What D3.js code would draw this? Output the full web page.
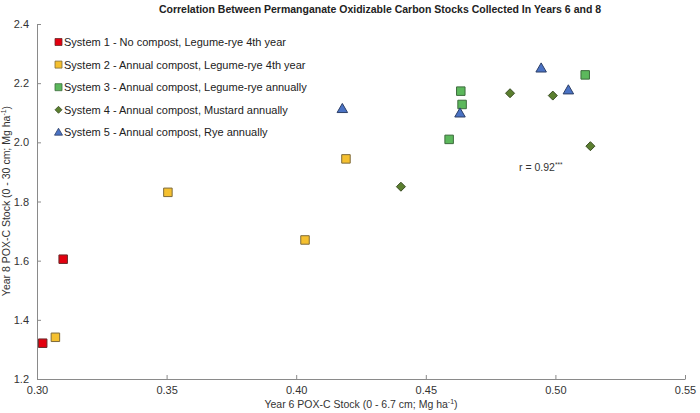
<!DOCTYPE html>
<html><head><meta charset="utf-8">
<script src="https://cdn.jsdelivr.net/npm/d3@7"></script>
<style>body{margin:0;background:#fff}svg{display:block;font-family:"Liberation Sans",Arial,sans-serif}</style>
</head><body><svg id="c" width="700" height="413"></svg>
<script>
const title = "Correlation Between Permanganate Oxidizable Carbon Stocks Collected In Years 6 and 8";
const seriesNames = ["System 1 - No compost, Legume-rye 4th year","System 2 - Annual compost, Legume-rye 4th year","System 3 - Annual compost, Legume-rye annually","System 4 - Annual compost, Mustard annually","System 5 - Annual compost, Rye annually"];
const s1x = [0.3022,0.3101];
const s1y = [1.321,1.605];
const s2x = [0.3071,0.3505,0.4034,0.4192];
const s2y = [1.341,1.831,1.670,1.944];
const s3x = [0.459,0.4635,0.464,0.5115];
const s3y = [2.010,2.173,2.128,2.228];
const s4x = [0.4404,0.4825,0.4990,0.5135];
const s4y = [1.850,2.166,2.158,1.987];
const s5x = [0.4178,0.4632,0.4945,0.5050];
const s5y = [2.113,2.098,2.250,2.176];
const xTicks = [0.30,0.35,0.40,0.45,0.50,0.55];
const yTicks = [1.2,1.4,1.6,1.8,2.0,2.2,2.4];
const fills = ["#e3000f","#f5c02f","#5cb85c","#5b7f2f","#4a72c4"];
const strokes = ["#6a2a2a","#7d6a3a","#3d6b3d","#3a4d24","#2d3f66"];
const shapes = ["square","square","square","diamond","triangle"];

const svg = d3.select("#c");
const x = d3.scaleLinear().domain([0.30,0.55]).range([37,685]);
const y = d3.scaleLinear().domain([1.2,2.4]).range([379,24]);

function sym(shape, s){
  if(shape==="square") return `M${-s/2},${-s/2}h${s}v${s}h${-s}Z`;
  if(shape==="diamond") return `M0,${-s/2}L${s/2},0L0,${s/2}L${-s/2},0Z`;
  const h = s*0.87;
  return `M0,${-h*0.6}L${s/2},${h*0.4}L${-s/2},${h*0.4}Z`;
}
const markSize = {square:8.5, diamond:9, triangle:10.5};
const legSize = {square:7, diamond:7, triangle:8};

svg.append("text").attr("x",380).attr("y",13).attr("text-anchor","middle")
  .attr("font-size",10.5).attr("font-weight","bold").attr("fill","#222").text(title);

const gx = svg.append("g").attr("transform","translate(0,379)")
  .call(d3.axisBottom(x).tickValues(xTicks).tickFormat(d3.format(".2f")).tickSizeInner(-4).tickSizeOuter(0).tickPadding(7));
const gy = svg.append("g").attr("transform","translate(37,0)")
  .call(d3.axisLeft(y).tickValues(yTicks).tickFormat(d3.format(".1f")).tickSizeInner(-4).tickSizeOuter(0).tickPadding(8));
[gx,gy].forEach(g=>{
  g.select(".domain").attr("stroke","#8a8a8a");
  g.selectAll(".tick line").attr("stroke","#8a8a8a");
  g.selectAll(".tick text").attr("font-size",11).attr("fill","#333").attr("font-family","Liberation Sans, Arial, sans-serif");
});

const xl = svg.append("text").attr("x",361).attr("y",408).attr("text-anchor","middle").attr("font-size",10.5).attr("fill","#333");
xl.append("tspan").text("Year 6 POX-C Stock (0 - 6.7 cm; Mg ha");
xl.append("tspan").attr("font-size",7).attr("dy",-4).text("-1");
xl.append("tspan").attr("dy",4).text(")");

const yl = svg.append("text").attr("transform","translate(10,201) rotate(-90)").attr("text-anchor","middle").attr("font-size",10.5).attr("fill","#333");
yl.append("tspan").text("Year 8 POX-C Stock (0 - 30 cm; Mg ha");
yl.append("tspan").attr("font-size",7).attr("dy",-4).text("-1");
yl.append("tspan").attr("dy",4).text(")");

const rt = svg.append("text").attr("x",519).attr("y",171).attr("font-size",10.5).attr("fill","#333");
rt.append("tspan").text("r = 0.92");
rt.append("tspan").attr("font-size",6.5).attr("dy",-4).text("***");

const allX=[s1x,s2x,s3x,s4x,s5x], allY=[s1y,s2y,s3y,s4y,s5y];
allX.forEach((xs,i)=>{
  const pts = xs.map((v,j)=>[v,allY[i][j]]);
  svg.append("g").selectAll("path").data(pts).join("path")
    .attr("d",sym(shapes[i],markSize[shapes[i]]))
    .attr("transform",d=>`translate(${x(d[0])},${y(d[1])})`)
    .attr("fill",fills[i]).attr("stroke",strokes[i]).attr("stroke-width",1);
});

const lg = svg.append("g");
seriesNames.forEach((n,i)=>{
  const yy = 42 + i*22.6;
  lg.append("path").attr("d",sym(shapes[i],legSize[shapes[i]]))
    .attr("transform",`translate(58.5,${yy})`).attr("fill",fills[i]).attr("stroke",strokes[i]).attr("stroke-width",0.8);
  lg.append("text").attr("x",64).attr("y",yy+4).attr("font-size",11).attr("fill","#222").text(n);
});
</script></body></html>
